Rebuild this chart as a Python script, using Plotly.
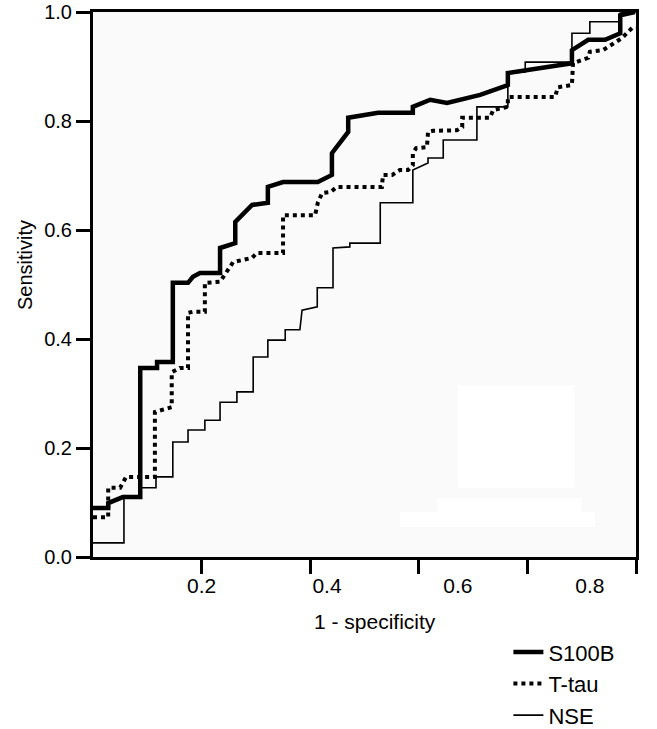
import plotly.graph_objects as go

# ROC curve points (1 - specificity, sensitivity)
s100b_fpr = [0.0, 0.028, 0.028, 0.055, 0.087, 0.087, 0.118, 0.118, 0.147, 0.147, 0.175, 0.184, 0.197,
             0.234, 0.234, 0.262, 0.262, 0.293, 0.322, 0.322, 0.350, 0.414, 0.440, 0.440, 0.470, 0.470,
             0.525, 0.589, 0.589, 0.621, 0.652, 0.713, 0.764, 0.764, 0.882, 0.882, 0.912, 0.943, 0.971,
             0.971, 0.998]
s100b_tpr = [0.090, 0.090, 0.099, 0.110, 0.110, 0.347, 0.347, 0.358, 0.358, 0.503, 0.503, 0.514, 0.521,
             0.521, 0.567, 0.576, 0.615, 0.646, 0.650, 0.679, 0.688, 0.688, 0.701, 0.741, 0.780, 0.806,
             0.815, 0.815, 0.826, 0.839, 0.833, 0.848, 0.866, 0.888, 0.906, 0.930, 0.949, 0.949, 0.961,
             0.994, 1.0]

ttau_fpr = [0.0, 0.028, 0.028, 0.050, 0.061, 0.114, 0.114, 0.138, 0.145, 0.145, 0.160, 0.175, 0.175,
            0.184, 0.206, 0.206, 0.234, 0.258, 0.274, 0.293, 0.302, 0.350, 0.350, 0.409, 0.414, 0.422,
            0.438, 0.449, 0.532, 0.534, 0.551, 0.565, 0.580, 0.589, 0.589, 0.595, 0.615, 0.617, 0.626,
            0.670, 0.680, 0.680, 0.731, 0.737, 0.764, 0.764, 0.851, 0.856, 0.882, 0.884, 0.912, 0.915,
            0.939, 0.974, 0.993, 1.0]
ttau_tpr = [0.073, 0.073, 0.127, 0.127, 0.147, 0.147, 0.266, 0.273, 0.275, 0.339, 0.347, 0.347, 0.448,
            0.450, 0.450, 0.503, 0.505, 0.541, 0.545, 0.549, 0.558, 0.558, 0.627, 0.627, 0.650, 0.668,
            0.670, 0.679, 0.679, 0.701, 0.701, 0.710, 0.710, 0.719, 0.741, 0.750, 0.752, 0.780, 0.782,
            0.783, 0.789, 0.806, 0.806, 0.820, 0.826, 0.844, 0.844, 0.862, 0.866, 0.906, 0.916, 0.927,
            0.930, 0.952, 0.971, 0.971]

nse_fpr = [0.0, 0.057, 0.057, 0.087, 0.087, 0.116, 0.116, 0.147, 0.147, 0.175, 0.175, 0.206, 0.206,
           0.234, 0.234, 0.265, 0.265, 0.295, 0.295, 0.322, 0.322, 0.354, 0.354, 0.381, 0.385, 0.413,
           0.413, 0.442, 0.442, 0.473, 0.473, 0.529, 0.529, 0.589, 0.589, 0.617, 0.617, 0.645, 0.645,
           0.707, 0.707, 0.764, 0.764, 0.796, 0.796, 0.882, 0.882, 0.915, 0.915, 0.971, 0.971, 1.0]
nse_tpr = [0.026, 0.026, 0.108, 0.108, 0.127, 0.127, 0.147, 0.147, 0.211, 0.211, 0.233, 0.233, 0.251,
           0.251, 0.284, 0.284, 0.303, 0.303, 0.367, 0.367, 0.398, 0.398, 0.417, 0.417, 0.453, 0.459,
           0.494, 0.494, 0.567, 0.569, 0.576, 0.576, 0.650, 0.650, 0.710, 0.723, 0.732, 0.732, 0.765,
           0.765, 0.826, 0.826, 0.888, 0.890, 0.908, 0.908, 0.961, 0.961, 0.982, 0.982, 0.998, 1.0]

x_tick_marks = [0.2, 0.4, 0.6, 0.8, 1.0]
x_label_pos = [0.2, 0.431, 0.672, 0.915]
x_label_text = ["0.2", "0.4", "0.6", "0.8"]
y_ticks = [0.0, 0.2, 0.4, 0.6, 0.8, 1.0]
y_tick_text = ["0.0", "0.2", "0.4", "0.6", "0.8", "1.0"]

FONT = "Arial, 'Liberation Sans', sans-serif"

fig = go.Figure()
fig.add_trace(go.Scatter(x=s100b_fpr, y=s100b_tpr, mode="lines", name="S100B",
                         line=dict(color="black", width=4.5)))
fig.add_trace(go.Scatter(x=ttau_fpr, y=ttau_tpr, mode="lines", name="T-tau",
                         line=dict(color="black", width=4, dash="4px,4px")))
fig.add_trace(go.Scatter(x=nse_fpr, y=nse_tpr, mode="lines", name="NSE",
                         line=dict(color="black", width=1.6)))
# invisible trace on the label axis
fig.add_trace(go.Scatter(x=[0, 1], y=[0, 0], xaxis="x2", mode="lines",
                         line=dict(width=0), showlegend=False, hoverinfo="skip"))

# faint white patches in the plot area
for (x0, x1, y0, y1) in [(0.672, 0.887, 0.127, 0.315), (0.635, 0.900, 0.082, 0.108),
                         (0.565, 0.925, 0.055, 0.082)]:
    fig.add_shape(type="rect", xref="x", yref="y", x0=x0, x1=x1, y0=y0, y1=y1,
                  fillcolor="white", line=dict(width=0), layer="below")

fig.update_layout(
    width=657, height=729,
    margin=dict(l=93, r=21, t=12, b=172, autoexpand=False),
    paper_bgcolor="white",
    plot_bgcolor="#fafafa",
    font=dict(family=FONT, color="black", size=20),
    showlegend=True,
    legend=dict(x=0.765, y=-0.136, xanchor="left", yanchor="top",
                font=dict(size=22, family=FONT), bgcolor="rgba(0,0,0,0)",
                tracegroupgap=0, itemwidth=30),
    xaxis=dict(range=[0, 1], tickvals=x_tick_marks, showticklabels=False,
               ticks="outside", ticklen=14, tickwidth=3, tickcolor="black",
               showline=True, linewidth=3, linecolor="black", mirror=True,
               showgrid=False, zeroline=False, fixedrange=True),
    xaxis2=dict(range=[0, 1], overlaying="x", anchor="y", side="bottom",
                tickvals=x_label_pos, ticktext=x_label_text,
                ticks="outside", ticklen=10, tickcolor="rgba(0,0,0,0)",
                tickfont=dict(size=21, family=FONT),
                showline=False, showgrid=False, zeroline=False),
    yaxis=dict(range=[0, 1], tickvals=y_ticks, ticktext=y_tick_text,
               ticks="outside", ticklen=14, tickwidth=3, tickcolor="black",
               tickfont=dict(size=20, family=FONT),
               showline=True, linewidth=3, linecolor="black", mirror=True,
               showgrid=False, zeroline=False),
    annotations=[
        dict(text="1 - specificity", xref="paper", yref="paper", x=0.519, y=-0.119,
             showarrow=False, font=dict(size=21, family=FONT), xanchor="center", yanchor="middle"),
        dict(text="Sensitivity", xref="paper", yref="paper", x=-0.125, y=0.536,
             showarrow=False, textangle=-90, font=dict(size=20, family=FONT),
             xanchor="center", yanchor="middle"),
    ],
)

fig.write_html("out.html", config={"displayModeBar": False},
               post_script="document.body.style.margin='0';")
